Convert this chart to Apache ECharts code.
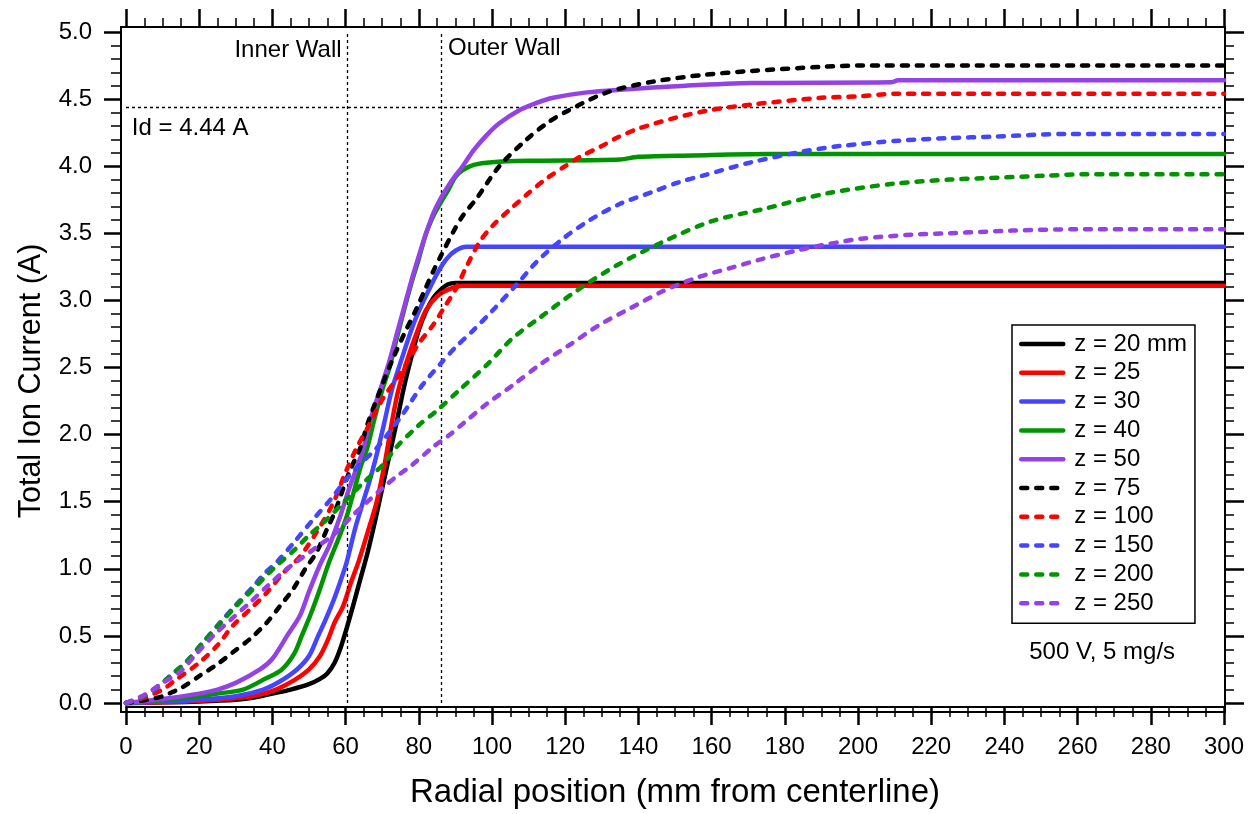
<!DOCTYPE html>
<html><head><meta charset="utf-8">
<script src="https://cdn.jsdelivr.net/npm/echarts@6/dist/echarts.min.js"></script>
<style>html,body{margin:0;padding:0;background:#fff}#c{width:1249px;height:814px}</style>
</head><body><div id="c"></div>
<script>
// ---- data (x = radial position mm, y = total ion current A) ----
const z20 = [[0,0],[10,0.005],[20,0.012],[30,0.025],[35,0.04],[40,0.07],[45,0.1],[50,0.14],[53,0.18],[55,0.22],[57,0.3],[58.5,0.4],[60,0.53],[62,0.72],[64,0.92],[66,1.12],[68,1.35],[70,1.6],[72,1.85],[74,2.1],[76,2.36],[78,2.58],[80,2.78],[82,2.92],[84,3.02],[86,3.08],[88,3.12],[90,3.13],[300,3.13]];
const z25 = [[0,0],[10,0.005],[20,0.015],[30,0.035],[36,0.06],[41,0.1],[46,0.17],[50,0.25],[53,0.35],[55.3,0.48],[57,0.6],[59.3,0.72],[61.5,0.9],[63.5,1.05],[66,1.27],[68.5,1.5],[70.8,1.8],[72.7,2.1],[74.4,2.33],[77,2.57],[80,2.8],[82,2.93],[85,3.03],[88,3.08],[92,3.11],[300,3.11]];
const z30 = [[0,0],[10,0.01],[20,0.025],[30,0.05],[37.5,0.1],[42,0.16],[46.7,0.25],[50,0.35],[52.5,0.5],[54.5,0.62],[56.5,0.75],[58.5,0.9],[60.3,1.05],[62.6,1.3],[64.8,1.5],[66.5,1.65],[68.3,1.83],[70.5,2.08],[72.6,2.33],[75.4,2.57],[78.5,2.82],[80.5,2.95],[82.6,3.07],[85,3.2],[87.6,3.31],[90,3.37],[93,3.4],[300,3.4]];
const z40 = [[0,0],[10,0.02],[20,0.05],[25,0.07],[32,0.1],[38,0.18],[42.6,0.25],[46,0.37],[48,0.5],[50.3,0.65],[53,0.85],[55.5,1.05],[58,1.22],[60.3,1.39],[62.5,1.6],[64,1.75],[65.8,1.89],[68,2.13],[70,2.33],[72,2.5],[74,2.72],[76,2.93],[78,3.13],[80,3.31],[82,3.5],[84,3.63],[86,3.73],[88,3.82],[90,3.92],[92,3.97],[95,4.01],[100,4.03],[110,4.04],[135,4.05],[140,4.07],[155,4.08],[175,4.09],[300,4.09]];
const z50 = [[0,0],[10,0.03],[20,0.07],[25,0.1],[30,0.15],[36.6,0.25],[40,0.33],[44,0.5],[47.5,0.65],[50,0.83],[53,1.03],[55.5,1.17],[58.5,1.39],[61,1.6],[63,1.75],[64.8,1.89],[67,2.13],[70,2.38],[72,2.55],[74,2.75],[76,2.95],[78,3.15],[80,3.33],[82,3.5],[84,3.65],[86,3.76],[88,3.85],[90,3.93],[92,4.0],[95,4.12],[98.5,4.23],[102,4.32],[107.7,4.42],[112,4.47],[116.7,4.51],[126,4.55],[135,4.57],[153,4.6],[171,4.62],[209,4.625],[211,4.64],[300,4.64]];
const z75 = [[0,0],[5,0.02],[10,0.05],[12.5,0.08],[15,0.11],[20,0.2],[25,0.29],[29.3,0.38],[34,0.48],[38.5,0.6],[42,0.72],[45.7,0.85],[49,1.0],[52,1.12],[55,1.3],[57,1.42],[61,1.72],[64,1.9],[66,2.08],[70,2.37],[73,2.57],[76,2.75],[79.4,2.94],[82,3.1],[84,3.22],[86,3.33],[89.4,3.51],[92,3.63],[95.8,3.76],[102,4.0],[109.5,4.2],[115,4.32],[120.5,4.41],[131.4,4.55],[144,4.63],[157.6,4.68],[171,4.71],[190,4.74],[200,4.75],[300,4.75]];
const z100 = [[0,0],[5,0.04],[10,0.1],[13,0.16],[20,0.3],[25,0.43],[29.3,0.58],[34,0.7],[38.4,0.82],[43,0.97],[47.5,1.09],[52,1.27],[56.6,1.49],[60,1.72],[63,1.9],[66,2.05],[70,2.26],[74,2.42],[77.6,2.57],[80,2.68],[84,2.82],[87,2.95],[90,3.08],[93,3.25],[96.7,3.44],[100.3,3.56],[105,3.68],[110,3.8],[115,3.91],[120,4.0],[124,4.07],[130,4.15],[134,4.21],[140,4.28],[150,4.36],[160,4.42],[171,4.46],[190,4.51],[200,4.52],[210,4.54],[300,4.54]];
const z150 = [[0,0],[4,0.04],[8.4,0.11],[12,0.2],[16.6,0.31],[21,0.45],[25.7,0.6],[30,0.73],[34.8,0.87],[38,0.97],[41.2,1.05],[46,1.2],[51.2,1.37],[56,1.52],[60,1.66],[64,1.78],[68.5,1.9],[72,2.02],[75.8,2.16],[81,2.37],[86,2.53],[90,2.65],[95,2.78],[100,2.92],[106.8,3.12],[112.3,3.29],[119.4,3.46],[126.8,3.6],[135,3.72],[144,3.81],[151,3.88],[157.6,3.93],[171,4.03],[185,4.11],[195,4.15],[211,4.19],[225,4.21],[237,4.22],[257,4.24],[300,4.24]];
const z200 = [[0,0],[4,0.04],[9,0.13],[12,0.2],[16.6,0.31],[21,0.45],[25.7,0.59],[30,0.72],[34.8,0.85],[38,0.94],[41,1.02],[46,1.14],[50,1.25],[53.8,1.34],[59.3,1.49],[64.8,1.64],[70,1.77],[74,1.91],[80,2.07],[85,2.18],[91,2.33],[98.6,2.52],[105.7,2.72],[113,2.87],[123,3.07],[134,3.26],[147,3.44],[160,3.59],[174,3.68],[192,3.8],[210,3.87],[225,3.9],[234,3.91],[252,3.93],[262,3.94],[300,3.94]];
const z250 = [[0,0],[5,0.06],[10,0.15],[14.7,0.23],[19,0.36],[23.8,0.5],[29,0.63],[33.9,0.75],[39,0.88],[44,1.0],[48,1.08],[53,1.18],[57,1.26],[62,1.4],[66,1.5],[70,1.6],[74,1.69],[78,1.77],[84,1.91],[88.5,2.0],[92,2.08],[98.6,2.23],[105.8,2.37],[113,2.52],[121.3,2.67],[129.5,2.82],[137.7,2.94],[146.8,3.07],[156,3.17],[165,3.24],[174,3.31],[183,3.37],[192,3.42],[201,3.46],[215,3.49],[225,3.5],[242,3.52],[260,3.53],[300,3.53]];

const seriesNames = ['z = 20 mm','z = 25','z = 30','z = 40','z = 50','z = 75','z = 100','z = 150','z = 200','z = 250'];
const seriesData = [z20, z25, z30, z40, z50, z75, z100, z150, z200, z250];
const seriesColors = ['#000000','#ff0000','#4545ff','#009400','#9442e6','#000000','#ff0000','#4545ff','#009400','#9442e6'];
const seriesDashed = [false,false,false,false,false,true,true,true,true,true];

// annotations
const innerWall = 60.5, outerWall = 86.2, idCurrent = 4.44;
const annotTexts = ['Inner Wall','Outer Wall','Id = 4.44 A','500 V, 5 mg/s'];
const annotCoords = [[58.9,4.86],[88.0,4.88],[1.6,4.285],[266.7,0.377]];
const annotSide = ['left','right','right','center'];

const FONT = '"Liberation Sans", Arial, sans-serif';

const chart = echarts.init(document.getElementById('c'), null, {renderer:'canvas'});

const tickCommon = (len, minorLen, split) => ({
  axisTick:{show:true, inside:false, length:len, lineStyle:{color:'#000', width:2.5}},
  minorTick:{show:true, splitNumber:split, length:minorLen, lineStyle:{color:'#000', width:1.5}},
  splitLine:{show:false}, minorSplitLine:{show:false},
  axisLine:{show:true, onZero:false, lineStyle:{color:'#000', width:2}}
});

const series = seriesData.map((d,i)=>({
  type:'line', name:seriesNames[i], data:d, xAxisIndex:0, yAxisIndex:0,
  symbol:'none', smooth:0.3, clip:false,
  lineStyle:{color:seriesColors[i], width:4.5, type: seriesDashed[i] ? [6,9] : 'solid', cap:'round', join:'round'},
  itemStyle:{color:seriesColors[i]},
  emphasis:{disabled:true}, z: 3 + i
}));

series.push({
  type:'line', name:'annot', data:[], xAxisIndex:0, yAxisIndex:0, silent:true,
  markLine:{
    silent:true, symbol:'none', animation:false,
    lineStyle:{color:'#000', width:1.3, type:[3,3]},
    label:{show:false},
    data:[{xAxis:innerWall},{xAxis:outerWall},{yAxis:idCurrent}]
  },
  markPoint:{
    silent:true, symbol:'circle', symbolSize:0, animation:false,
    itemStyle:{color:'rgba(0,0,0,0)'},
    data: annotTexts.map((t,i)=>({
      coord: annotCoords[i],
      label:{show:true, formatter:t, position: annotSide[i]==='center' ? 'inside' : annotSide[i], distance:0,
        color:'#000', fontSize:24, fontFamily:FONT}
    }))
  }
});

chart.setOption({
  animation:false,
  backgroundColor:'#fff',
  textStyle:{fontFamily:FONT},
  grid:[
    {left:126, top:32, width:1098, height:676, show:false},
    {left:121, top:27, width:1104, height:685, show:true, borderColor:'#000', borderWidth:2, backgroundColor:'rgba(0,0,0,0)'}
  ],
  legend:{
    data: seriesNames, orient:'vertical', left:1012, top:325,
    backgroundColor:'#fff', borderColor:'#000', borderWidth:1.5, borderRadius:0,
    padding:[7,8,8,7], itemWidth:42, itemHeight:14, itemGap:4.8,
    itemStyle:{color:'rgba(0,0,0,0)', borderColor:'rgba(0,0,0,0)', borderWidth:0},
    lineStyle:{width:4.5, cap:'round'},
    textStyle:{fontSize:24, color:'#000', fontFamily:FONT, padding:[0,0,0,6]},
    selectedMode:false
  },
  xAxis:[
    Object.assign({gridIndex:0, type:'value', min:0, max:300, interval:20, position:'bottom', offset:4,
      axisLabel:{show:true, margin:28, fontSize:24, color:'#000', fontFamily:FONT},
      name:'Radial position (mm from centerline)', nameLocation:'middle', nameGap:69,
      nameTextStyle:{fontSize:33, color:'#000', fontFamily:FONT}
    }, tickCommon(18,10,4)),
    Object.assign({gridIndex:0, type:'value', min:0, max:300, interval:20, position:'top', offset:5,
      axisLabel:{show:false}}, tickCommon(18,9,4)),
    {gridIndex:1, type:'value', min:0, max:1, show:false}
  ],
  yAxis:[
    Object.assign({gridIndex:0, type:'value', min:0, max:5, interval:0.5, position:'left', offset:5,
      axisLabel:{show:true, margin:29, fontSize:24, color:'#000', fontFamily:FONT, formatter:v=>v.toFixed(1)},
      name:'Total Ion Current (A)', nameLocation:'middle', nameGap:74,
      nameTextStyle:{fontSize:30.5, color:'#000', fontFamily:FONT, padding:[0,27,0,0]}
    }, tickCommon(17,10,5)),
    Object.assign({gridIndex:0, type:'value', min:0, max:5, interval:0.5, position:'right', offset:1,
      axisLabel:{show:false}}, tickCommon(19,9,5)),
    {gridIndex:1, type:'value', min:0, max:1, show:false}
  ],
  series: series
});
</script>
</body></html>
